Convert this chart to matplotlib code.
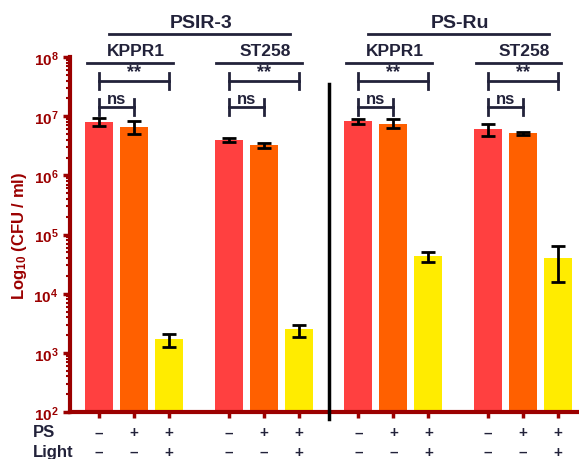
import matplotlib.pyplot as plt
import numpy as np
from matplotlib import transforms

plt.rcParams['font.family'] = ['Liberation Sans', 'DejaVu Sans']
plt.rcParams['font.weight'] = 'bold'
plt.rcParams['mathtext.fontset'] = 'custom'
plt.rcParams['mathtext.rm'] = 'Liberation Sans:bold'
plt.rcParams['mathtext.bf'] = 'Liberation Sans:bold'
plt.rcParams['mathtext.it'] = 'Liberation Sans:bold'

# data
positions = [0, 1, 2, 3.7, 4.7, 5.7, 7.4, 8.4, 9.4, 11.1, 12.1, 13.1]
cfu = [8.0e6, 6.6e6, 1.65e3, 4.0e6, 3.2e6, 2.4e3,
       8.2e6, 7.5e6, 4.3e4, 6.0e6, 5.1e6, 4.0e4]
err = [1.2e6, 1.6e6, 0.4e3, 0.3e6, 0.3e6, 0.55e3,
       0.8e6, 1.3e6, 0.8e4, 1.3e6, 0.35e6, 2.4e4]
ps_row = ['–', '+', '+'] * 4
light_row = ['–', '–', '+'] * 4
strains = ['KPPR1', 'ST258', 'KPPR1', 'ST258']
compounds = ['PSIR-3', 'PS-Ru']

colors = ['#FF4040', '#FF6000', '#FFEC00'] * 4
dark_red = '#9B0000'
ink = '#22223A'

fig = plt.figure(figsize=(5.79, 4.6), dpi=100)
ax = fig.add_axes([0.121, 0.102, 0.879, 0.772])

ax.bar(positions, cfu, width=0.8, color=colors, bottom=1e2, zorder=2)
ax.errorbar(positions, cfu, yerr=err, fmt='none', ecolor='black',
            elinewidth=2, capsize=5, capthick=2, zorder=3)

ax.set_yscale('log')
ax.set_ylim(1e2, 1e8)
ax.set_xlim(-0.83, 13.7)
ax.set_yticks([10.0 ** k for k in range(2, 9)])
ax.set_yticklabels([r'$10^{%d}$' % k for k in range(2, 9)])
ax.set_xticks(positions)
ax.set_xticklabels([])

for s in ['top', 'right']:
    ax.spines[s].set_visible(False)
for s in ['left', 'bottom']:
    ax.spines[s].set_color(dark_red)
    ax.spines[s].set_linewidth(3)
ax.tick_params(axis='y', which='major', colors=dark_red, width=2.5, length=5,
               labelsize=11)
ax.tick_params(axis='y', which='minor', colors=dark_red, width=1.5, length=3)
ax.tick_params(axis='x', colors=dark_red, width=2.5, length=4)
ax.set_ylabel(r'Log$_{10}$ (CFU / ml)', color=dark_red, fontsize=12,
              fontweight='bold', labelpad=3)

trans = transforms.blended_transform_factory(ax.transData, ax.transAxes)

# divider
ax.plot([6.55, 6.55], [-0.02, 0.925], color='black', lw=2.5, transform=trans,
        clip_on=False, zorder=4)


def bracket(x0, x1, y, label, fs):
    ax.plot([x0, x1], [y, y], color=ink, lw=2, transform=trans, clip_on=False)
    for xx in (x0, x1):
        ax.plot([xx, xx], [y - 0.022, y + 0.022], color=ink, lw=2,
                transform=trans, clip_on=False)
    ax.text((x0 + x1) / 2, y + 0.002, label, ha='center', va='bottom',
            fontsize=fs, color=ink, fontweight='bold', transform=trans)


starts = [0, 3.7, 7.4, 11.1]
for i, x in enumerate(starts):
    bracket(x, x + 1, 0.859, 'ns', 12)
    bracket(x, x + 2, 0.932, '**', 13)
    ax.plot([x - 0.35, x + 2.1], [0.983, 0.983], color=ink, lw=2,
            transform=trans, clip_on=False)
    ax.text(x + 1.05, 0.998, strains[i], ha='center', va='bottom',
            fontsize=12.5, color=ink, fontweight='bold', transform=trans)

for i, x in enumerate([0, 7.4]):
    ax.plot([x + 0.27, x + 5.45], [1.065, 1.065], color=ink, lw=2,
            transform=trans, clip_on=False)
    ax.text(x + 2.9, 1.072, compounds[i], ha='center', va='bottom',
            fontsize=14, color=ink, fontweight='bold', transform=trans)

# condition rows
for x, p, l in zip(positions, ps_row, light_row):
    ax.text(x, -0.057, p, ha='center', va='center', fontsize=11,
            color=ink, transform=trans)
    ax.text(x, -0.113, l, ha='center', va='center', fontsize=11,
            color=ink, transform=trans)
fig.text(0.057, 0.059, 'PS', ha='left', va='center', fontsize=12,
         color=ink, fontweight='bold')
fig.text(0.057, 0.016, 'Light', ha='left', va='center', fontsize=12,
         color=ink, fontweight='bold')

fig.savefig('out.png', dpi=100)
